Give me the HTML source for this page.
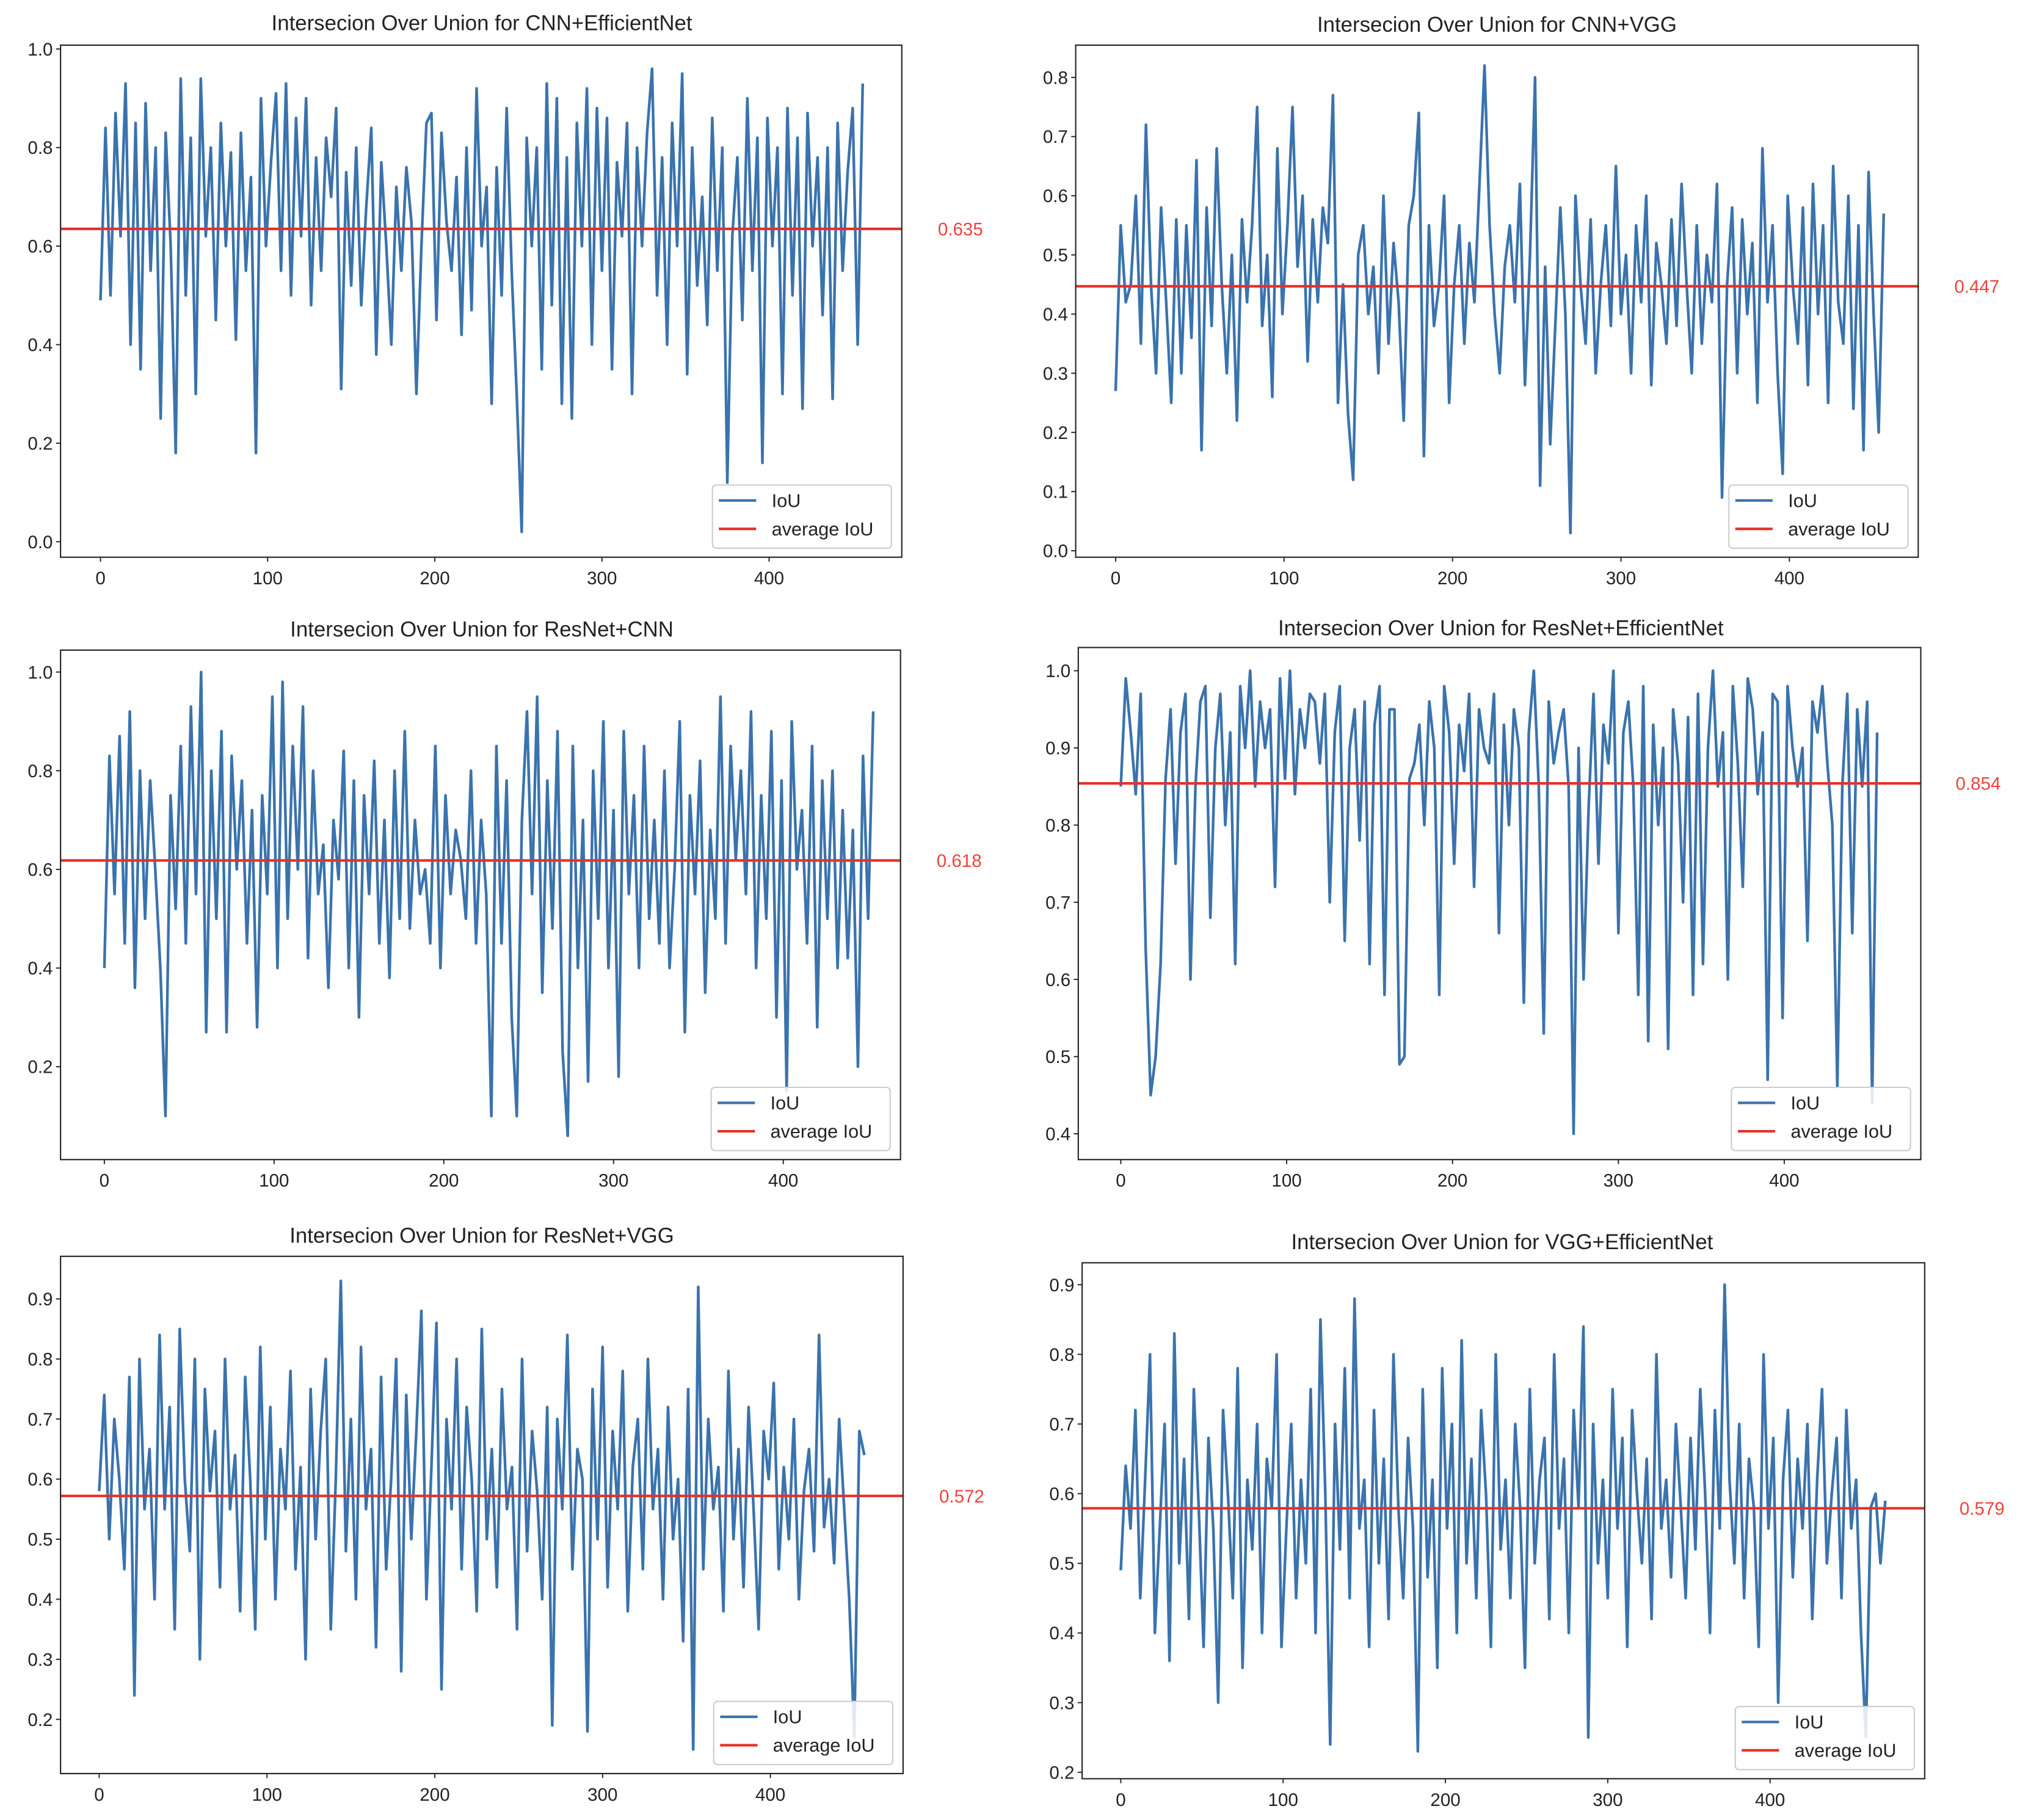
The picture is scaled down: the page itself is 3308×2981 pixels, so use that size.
<!DOCTYPE html>
<html><head><meta charset="utf-8"><style>
html,body{margin:0;padding:0;background:#fff;}
svg{display:block;}
text{font-family:"Liberation Sans","DejaVu Sans",sans-serif;}
</style></head><body>
<svg id="fig" xmlns="http://www.w3.org/2000/svg" width="3308" height="2981" viewBox="0 0 1568 1411" preserveAspectRatio="none"></svg>
<script>
// ---- data (IoU per sample, sampled every 3rd index) ----
const xStep = 3;
const iouCnnEff = [.49,.84,.50,.87,.62,.93,.40,.85,.35,.89,.55,.80,.25,.83,.60,.18,.94,.50,.82,.30,.94,.62,.80,.45,.85,.60,.79,.41,.83,.55,.74,.18,.90,.60,.77,.91,.55,.93,.50,.86,.62,.90,.48,.78,.55,.82,.70,.88,.31,.75,.52,.80,.48,.68,.84,.38,.77,.60,.40,.72,.55,.76,.65,.30,.60,.85,.87,.45,.83,.65,.55,.74,.42,.80,.47,.92,.60,.72,.28,.76,.50,.88,.55,.30,.02,.82,.60,.80,.35,.93,.48,.90,.28,.78,.25,.85,.60,.92,.40,.88,.55,.86,.35,.77,.62,.85,.30,.80,.60,.83,.96,.50,.78,.40,.85,.60,.95,.34,.80,.52,.70,.44,.86,.55,.80,.12,.62,.78,.45,.90,.55,.82,.16,.86,.60,.80,.30,.88,.50,.82,.27,.87,.60,.78,.46,.80,.29,.85,.55,.75,.88,.40,.93];
const iouCnnVgg = [.27,.55,.42,.45,.60,.35,.72,.45,.30,.58,.42,.25,.56,.30,.55,.36,.66,.17,.58,.38,.68,.45,.30,.50,.22,.56,.42,.55,.75,.38,.50,.26,.68,.40,.55,.75,.48,.60,.32,.56,.42,.58,.52,.77,.25,.45,.23,.12,.50,.55,.40,.48,.30,.60,.35,.52,.42,.22,.55,.60,.74,.16,.55,.38,.45,.60,.25,.45,.55,.35,.52,.42,.62,.82,.55,.40,.30,.48,.55,.42,.62,.28,.50,.80,.11,.48,.18,.38,.58,.40,.03,.60,.45,.35,.56,.30,.45,.55,.38,.65,.40,.50,.30,.55,.42,.60,.28,.52,.45,.35,.56,.38,.62,.45,.30,.55,.35,.50,.42,.62,.09,.45,.58,.30,.56,.40,.52,.25,.68,.42,.55,.30,.13,.60,.45,.35,.58,.28,.62,.40,.55,.25,.65,.42,.35,.60,.24,.55,.17,.64,.40,.20,.57];
const iouResCnn = [.40,.83,.55,.87,.45,.92,.36,.80,.50,.78,.60,.40,.10,.75,.52,.85,.45,.93,.55,1.0,.27,.80,.50,.88,.27,.83,.60,.78,.45,.72,.28,.75,.55,.95,.40,.98,.50,.85,.60,.93,.42,.80,.55,.65,.36,.70,.58,.84,.40,.78,.30,.75,.55,.82,.45,.70,.38,.80,.50,.88,.48,.70,.55,.60,.45,.85,.40,.75,.55,.68,.62,.50,.80,.45,.70,.55,.10,.85,.45,.78,.30,.10,.70,.92,.55,.95,.35,.78,.48,.88,.23,.06,.85,.40,.70,.17,.80,.50,.90,.40,.72,.18,.88,.55,.75,.40,.85,.50,.70,.45,.80,.40,.60,.90,.27,.75,.55,.82,.35,.68,.50,.95,.45,.85,.62,.80,.55,.92,.40,.75,.50,.88,.30,.78,.15,.90,.60,.72,.45,.85,.28,.78,.50,.80,.40,.72,.42,.68,.20,.83,.50,.92];
const iouResEff = [.85,.99,.92,.84,.97,.64,.45,.50,.62,.86,.95,.75,.92,.97,.60,.85,.96,.98,.68,.90,.97,.80,.92,.62,.98,.90,1.0,.85,.96,.90,.95,.72,.99,.86,1.0,.84,.95,.90,.97,.96,.88,.97,.70,.92,.98,.65,.90,.95,.78,.96,.62,.93,.98,.58,.95,.95,.49,.50,.86,.88,.93,.80,.96,.90,.58,.98,.92,.75,.93,.87,.97,.72,.95,.90,.88,.97,.66,.93,.80,.95,.90,.57,.92,1.0,.85,.53,.96,.88,.92,.95,.85,.40,.90,.60,.82,.97,.75,.93,.88,1.0,.66,.92,.96,.85,.58,.98,.52,.93,.80,.90,.51,.95,.88,.70,.94,.58,.97,.62,.90,1.0,.85,.92,.60,.98,.88,.72,.99,.95,.84,.92,.47,.97,.96,.55,.98,.90,.85,.90,.65,.96,.92,.98,.88,.80,.46,.85,.97,.66,.95,.85,.96,.44,.92];
const iouResVgg = [.58,.74,.50,.70,.60,.45,.77,.24,.80,.55,.65,.40,.84,.55,.72,.35,.85,.60,.48,.80,.30,.75,.58,.68,.42,.80,.55,.64,.38,.77,.60,.35,.82,.50,.72,.40,.65,.55,.78,.45,.62,.30,.75,.50,.68,.80,.35,.60,.93,.48,.70,.40,.82,.55,.65,.32,.77,.45,.60,.80,.28,.74,.50,.68,.88,.40,.62,.86,.25,.70,.55,.80,.45,.72,.60,.38,.85,.50,.65,.42,.75,.55,.62,.35,.80,.48,.68,.58,.40,.72,.19,.70,.55,.84,.45,.65,.60,.18,.75,.50,.82,.42,.68,.55,.78,.38,.62,.70,.45,.80,.55,.65,.40,.72,.50,.60,.33,.75,.15,.92,.45,.70,.55,.62,.38,.78,.50,.65,.42,.72,.55,.35,.68,.60,.76,.45,.62,.50,.70,.40,.58,.65,.48,.84,.52,.60,.46,.70,.55,.40,.17,.68,.64];
const iouVggEff = [.49,.64,.55,.72,.45,.62,.80,.40,.55,.70,.36,.83,.50,.65,.42,.75,.58,.38,.68,.55,.30,.72,.60,.45,.78,.35,.62,.52,.70,.40,.65,.58,.80,.38,.55,.70,.45,.62,.50,.75,.40,.85,.60,.24,.70,.52,.78,.45,.88,.55,.62,.38,.72,.50,.65,.42,.80,.58,.45,.68,.55,.23,.75,.48,.62,.35,.78,.55,.70,.40,.82,.50,.65,.45,.72,.60,.38,.80,.52,.62,.45,.70,.58,.35,.75,.50,.62,.68,.42,.80,.55,.65,.40,.72,.58,.84,.25,.70,.50,.62,.45,.75,.55,.68,.38,.72,.60,.50,.65,.42,.80,.55,.62,.48,.70,.58,.45,.68,.52,.75,.60,.40,.72,.55,.90,.62,.50,.70,.45,.65,.58,.38,.80,.55,.68,.30,.62,.72,.48,.65,.55,.70,.42,.62,.75,.50,.60,.68,.45,.72,.55,.62,.40,.25,.58,.60,.50,.59];
const averages = [0.635, 0.447, 0.618, 0.854, 0.572, 0.579];
const titles = ["CNN+EfficientNet","CNN+VGG","ResNet+CNN","ResNet+EfficientNet","ResNet+VGG","VGG+EfficientNet"];
const xTicks = [0,100,200,300,400];
const yTicks1 = [0.0,0.2,0.4,0.6,0.8,1.0];
const yTicks2 = [0.0,0.1,0.2,0.3,0.4,0.5,0.6,0.7,0.8];
const yTicks3 = [0.2,0.4,0.6,0.8,1.0];
const yTicks4 = [0.4,0.5,0.6,0.7,0.8,0.9,1.0];
const yTicks5 = [0.2,0.3,0.4,0.5,0.6,0.7,0.8,0.9];
const yTicks6 = [0.2,0.3,0.4,0.5,0.6,0.7,0.8,0.9];
const series = [iouCnnEff,iouCnnVgg,iouResCnn,iouResEff,iouResVgg,iouVggEff];
const yTickSets = [yTicks1,yTicks2,yTicks3,yTicks4,yTicks5,yTicks6];

// ---- layout (overview pixel space) ----
const layout = [
 {L:47,R:700,T:35,B:432,x0:78,x400:597,va:0,vaPx:420,vb:1,vbPx:38,dec:1,tx:374,ty:18,lx:728},
 {L:835,R:1489,T:35,B:432,x0:866,x400:1389,va:0,vaPx:427,vb:0.8,vbPx:60,dec:1,tx:1162,ty:19,lx:1517},
 {L:47,R:699,T:504,B:899,x0:81,x400:608,va:0.2,vaPx:827,vb:1,vbPx:521,dec:1,tx:374,ty:488,lx:727},
 {L:837,R:1491,T:502,B:899,x0:870,x400:1385,va:0.4,vaPx:879,vb:1,vbPx:520,dec:1,tx:1165,ty:487,lx:1518},
 {L:47,R:701,T:974,B:1375,x0:77,x400:598,va:0.2,vaPx:1333,vb:0.9,vbPx:1007,dec:1,tx:374,ty:958,lx:729},
 {L:840,R:1494,T:979,B:1379,x0:870,x400:1374,va:0.2,vaPx:1374,vb:0.9,vbPx:996,dec:1,tx:1166,ty:963,lx:1521}
];
const NS = "http://www.w3.org/2000/svg";
const fig = document.getElementById('fig');
function mk(tag, attrs, parent){const e=document.createElementNS(NS,tag);for(const k in attrs)e.setAttribute(k,attrs[k]);(parent||fig).appendChild(e);return e;}
const BLUE="#3a73ad", RED="#e6302a";

layout.forEach((p,i)=>{
  const g = mk('g',{});
  
  
  const xs = v => p.x0 + (v/400)*(p.x400-p.x0);
  const ys = v => p.vaPx + (v-p.va)/(p.vb-p.va)*(p.vbPx-p.vaPx);
  const t = mk('text',{x:p.tx,y:p.ty+5.5,'text-anchor':'middle','font-size':16.5,fill:'#222'},g);
  t.textContent = 'Intersecion Over Union for '+titles[i];
  
  
  yTickSets[i].forEach(v=>{
    const y=ys(v);
    mk('line',{x1:p.L-3.5,x2:p.L,y1:y,y2:y,stroke:'#222','stroke-width':0.9},g);
    const tl=mk('text',{x:p.L-6,y:y+5,'text-anchor':'end','font-size':14,fill:'#222'},g);
    tl.textContent=v.toFixed(p.dec);
    
    
  });
  xTicks.forEach(v=>{
    const x=xs(v);
    mk('line',{x1:x,x2:x,y1:p.B,y2:p.B+3.5,stroke:'#222','stroke-width':0.9},g);
    const tl=mk('text',{x:x,y:p.B+21,'text-anchor':'middle','font-size':14,fill:'#222'},g);
    tl.textContent=String(v);
    
    
  });
  const d = series[i].map((v,k)=>(k?'L':'M')+xs(k*xStep).toFixed(2)+','+ys(v).toFixed(2)).join('');
  const ln = mk('path',{d:d,fill:'none',stroke:BLUE,'stroke-width':2.1,'stroke-linejoin':'round'},g);
  
  
  const ya = ys(averages[i]);
  const al = mk('line',{x1:p.L,x2:p.R,y1:ya,y2:ya,stroke:RED,'stroke-width':2},g);
  
  
  const at = mk('text',{x:p.lx,y:ya+5,'font-size':14,fill:'#f0433a'},g);
  at.textContent = averages[i].toFixed(3);
  
  
  const fr = mk('rect',{x:p.L,y:p.T,width:p.R-p.L,height:p.B-p.T,fill:'none',stroke:'#222','stroke-width':1},g);
  
  
  const lg = mk('g',{},g);
  
  
  const lx=p.R-147, ly=p.B-56;
  mk('rect',{x:lx,y:ly,width:139,height:49,rx:3,fill:'#fff','fill-opacity':0.85,stroke:'#ccc','stroke-width':1},lg);
  mk('line',{x1:lx+5,x2:lx+34,y1:ly+12,y2:ly+12,stroke:BLUE,'stroke-width':2},lg);
  mk('line',{x1:lx+5,x2:lx+34,y1:ly+34,y2:ly+34,stroke:RED,'stroke-width':2},lg);
  const e1=mk('text',{x:lx+46,y:ly+17,'font-size':14.5,fill:'#222'},lg); e1.textContent='IoU';
  
  
  const e2=mk('text',{x:lx+46,y:ly+39,'font-size':14.5,fill:'#222'},lg); e2.textContent='average IoU';
  
  
});
</script>
</body></html>
